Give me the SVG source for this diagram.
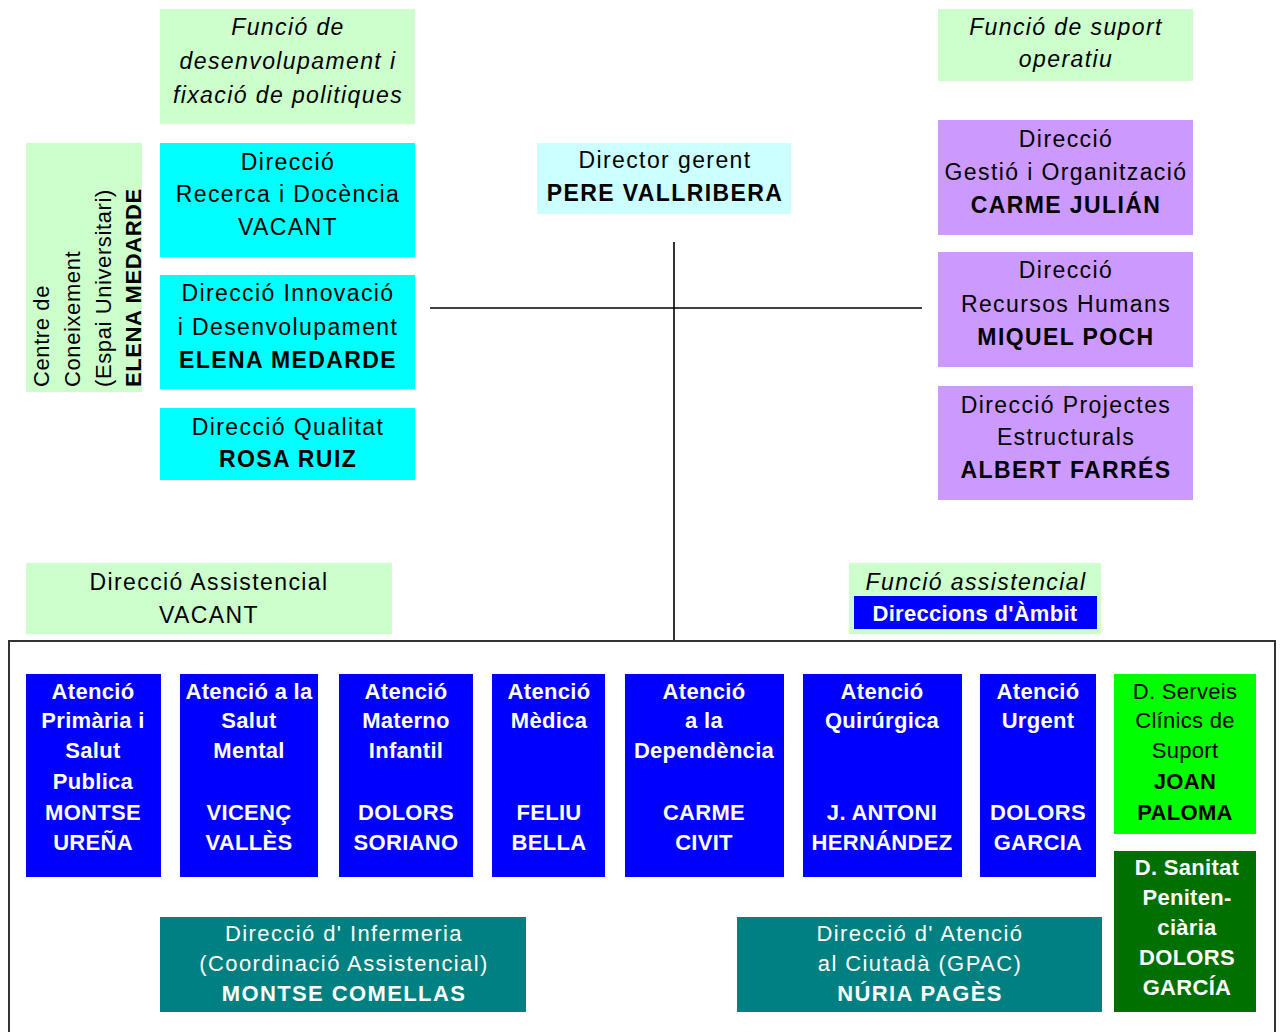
<svg xmlns="http://www.w3.org/2000/svg" width="1280" height="1032" viewBox="0 0 1280 1032">
<style>
text{font-family:"Liberation Sans",Arial,sans-serif;font-size:23px;letter-spacing:1.4px;text-anchor:middle;fill:#000}
.b{font-weight:bold}
.i{font-style:italic}
.w{fill:#fff}
.s{font-size:22px;letter-spacing:0.3px}
.t{font-size:22px;letter-spacing:1.4px}
.lg{fill:#ccffcc}
.cy{fill:#00ffff}
.lc{fill:#ccffff}
.pu{fill:#cc99ff}
.bl{fill:#0000ff}
.gr{fill:#00ff00}
.dg{fill:#007000}
.te{fill:#008080}
.ln{stroke:#000;stroke-width:1.6;fill:none}
.v text{text-anchor:start;font-size:22px;letter-spacing:0.6px}
</style>
<rect width="1280" height="1032" fill="#fff"/>
<g id="connectors">
<line class="ln" x1="430" y1="308" x2="922" y2="308"/>
<line class="ln" x1="674" y1="242" x2="674" y2="641"/>
<rect x="9" y="641" width="1266" height="400" fill="none" stroke="#333" stroke-width="2"/>
</g>
<g id="funcio-desenvolupament">
<rect class="lg" x="160" y="9" width="255" height="115"/>
<text class="i" x="288" y="35">Funció de</text>
<text class="i" x="288" y="69">desenvolupament i</text>
<text class="i" x="288" y="103">fixació de politiques</text>
</g>
<g id="funcio-suport">
<rect class="lg" x="938" y="9" width="255" height="72"/>
<text class="i" x="1066" y="35">Funció de suport</text>
<text class="i" x="1066" y="67">operatiu</text>
</g>
<g id="director-gerent">
<rect class="lc" x="537" y="143" width="254" height="71"/>
<text x="665" y="168">Director gerent</text>
<text class="b" x="665" y="201">PERE VALLRIBERA</text>
</g>
<g id="centre-coneixement" class="v">
<rect class="lg" x="26" y="143" width="116" height="249"/>
<text transform="translate(49,387) rotate(-90)">Centre de</text>
<text transform="translate(80,387) rotate(-90)">Coneixement</text>
<text transform="translate(111,387) rotate(-90)">(Espai Universitari)</text>
<text class="b" transform="translate(141,387) rotate(-90)">ELENA MEDARDE</text>
</g>
<g id="recerca-docencia">
<rect class="cy" x="160" y="143" width="255" height="114"/>
<text x="288" y="170">Direcció</text>
<text x="288" y="202">Recerca i Docència</text>
<text x="288" y="235">VACANT</text>
</g>
<g id="innovacio">
<rect class="cy" x="160" y="275" width="255" height="114"/>
<text x="288" y="301">Direcció Innovació</text>
<text x="288" y="335">i Desenvolupament</text>
<text class="b" x="288" y="368">ELENA MEDARDE</text>
</g>
<g id="qualitat">
<rect class="cy" x="160" y="408" width="255" height="72"/>
<text x="288" y="435">Direcció Qualitat</text>
<text class="b" x="288" y="467">ROSA RUIZ</text>
</g>
<g id="gestio-organitzacio">
<rect class="pu" x="938" y="120" width="255" height="115"/>
<text x="1066" y="147">Direcció</text>
<text x="1066" y="180">Gestió i Organització</text>
<text class="b" x="1066" y="213">CARME JULIÁN</text>
</g>
<g id="recursos-humans">
<rect class="pu" x="938" y="252" width="255" height="115"/>
<text x="1066" y="278">Direcció</text>
<text x="1066" y="312">Recursos Humans</text>
<text class="b" x="1066" y="345">MIQUEL POCH</text>
</g>
<g id="projectes-estructurals">
<rect class="pu" x="938" y="386" width="255" height="114"/>
<text x="1066" y="413">Direcció Projectes</text>
<text x="1066" y="445">Estructurals</text>
<text class="b" x="1066" y="478">ALBERT FARRÉS</text>
</g>
<g id="direccio-assistencial">
<rect class="lg" x="26" y="563" width="366" height="71"/>
<text x="209" y="590">Direcció Assistencial</text>
<text x="209" y="623">VACANT</text>
</g>
<g id="funcio-assistencial">
<rect class="lg" x="849" y="563" width="252" height="71"/>
<rect class="bl" x="854" y="596" width="243" height="33"/>
<text class="i" x="976" y="590">Funció assistencial</text>
<text class="b w s" x="975" y="621">Direccions d'Àmbit</text>
</g>
<g id="primaria">
<rect class="bl" x="26" y="674" width="135" height="203"/>
<text class="b w s" x="93" y="699">Atenció</text>
<text class="b w s" x="93" y="728">Primària i</text>
<text class="b w s" x="93" y="758">Salut</text>
<text class="b w s" x="93" y="789">Publica</text>
<text class="b w s" x="93" y="820">MONTSE</text>
<text class="b w s" x="93" y="850">UREÑA</text>
</g>
<g id="salut-mental">
<rect class="bl" x="180" y="674" width="138" height="203"/>
<text class="b w s" x="249" y="699">Atenció a la</text>
<text class="b w s" x="249" y="728">Salut</text>
<text class="b w s" x="249" y="758">Mental</text>
<text class="b w s" x="249" y="820">VICENÇ</text>
<text class="b w s" x="249" y="850">VALLÈS</text>
</g>
<g id="materno-infantil">
<rect class="bl" x="339" y="674" width="134" height="203"/>
<text class="b w s" x="406" y="699">Atenció</text>
<text class="b w s" x="406" y="728">Materno</text>
<text class="b w s" x="406" y="758">Infantil</text>
<text class="b w s" x="406" y="820">DOLORS</text>
<text class="b w s" x="406" y="850">SORIANO</text>
</g>
<g id="medica">
<rect class="bl" x="492" y="674" width="113" height="203"/>
<text class="b w s" x="549" y="699">Atenció</text>
<text class="b w s" x="549" y="728">Mèdica</text>
<text class="b w s" x="549" y="820">FELIU</text>
<text class="b w s" x="549" y="850">BELLA</text>
</g>
<g id="dependencia">
<rect class="bl" x="625" y="674" width="159" height="203"/>
<text class="b w s" x="704" y="699">Atenció</text>
<text class="b w s" x="704" y="728">a la</text>
<text class="b w s" x="704" y="758">Dependència</text>
<text class="b w s" x="704" y="820">CARME</text>
<text class="b w s" x="704" y="850">CIVIT</text>
</g>
<g id="quirurgica">
<rect class="bl" x="803" y="674" width="159" height="203"/>
<text class="b w s" x="882" y="699">Atenció</text>
<text class="b w s" x="882" y="728">Quirúrgica</text>
<text class="b w s" x="882" y="820">J. ANTONI</text>
<text class="b w s" x="882" y="850">HERNÁNDEZ</text>
</g>
<g id="urgent">
<rect class="bl" x="980" y="674" width="116" height="203"/>
<text class="b w s" x="1038" y="699">Atenció</text>
<text class="b w s" x="1038" y="728">Urgent</text>
<text class="b w s" x="1038" y="820">DOLORS</text>
<text class="b w s" x="1038" y="850">GARCIA</text>
</g>
<g id="serveis-clinics">
<rect class="gr" x="1114" y="674" width="142" height="160"/>
<text class="s" x="1185" y="699">D. Serveis</text>
<text class="s" x="1185" y="728">Clínics de</text>
<text class="s" x="1185" y="758">Suport</text>
<text class="b s" x="1185" y="789">JOAN</text>
<text class="b s" x="1185" y="820">PALOMA</text>
</g>
<g id="sanitat-penitenciaria">
<rect class="dg" x="1114" y="851" width="142" height="161"/>
<text class="b w s" x="1187" y="875">D. Sanitat</text>
<text class="b w s" x="1187" y="905">Peniten-</text>
<text class="b w s" x="1187" y="935">ciària</text>
<text class="b w s" x="1187" y="965">DOLORS</text>
<text class="b w s" x="1187" y="995">GARCÍA</text>
</g>
<g id="infermeria">
<rect class="te" x="160" y="917" width="366" height="95"/>
<text class="w t" x="344" y="941">Direcció d' Infermeria</text>
<text class="w t" x="344" y="971">(Coordinació Assistencial)</text>
<text class="b w t" x="344" y="1001">MONTSE COMELLAS</text>
</g>
<g id="atencio-ciutada">
<rect class="te" x="737" y="917" width="365" height="95"/>
<text class="w t" x="920" y="941">Direcció d' Atenció</text>
<text class="w t" x="920" y="971">al Ciutadà (GPAC)</text>
<text class="b w t" x="920" y="1001">NÚRIA PAGÈS</text>
</g>
</svg>
